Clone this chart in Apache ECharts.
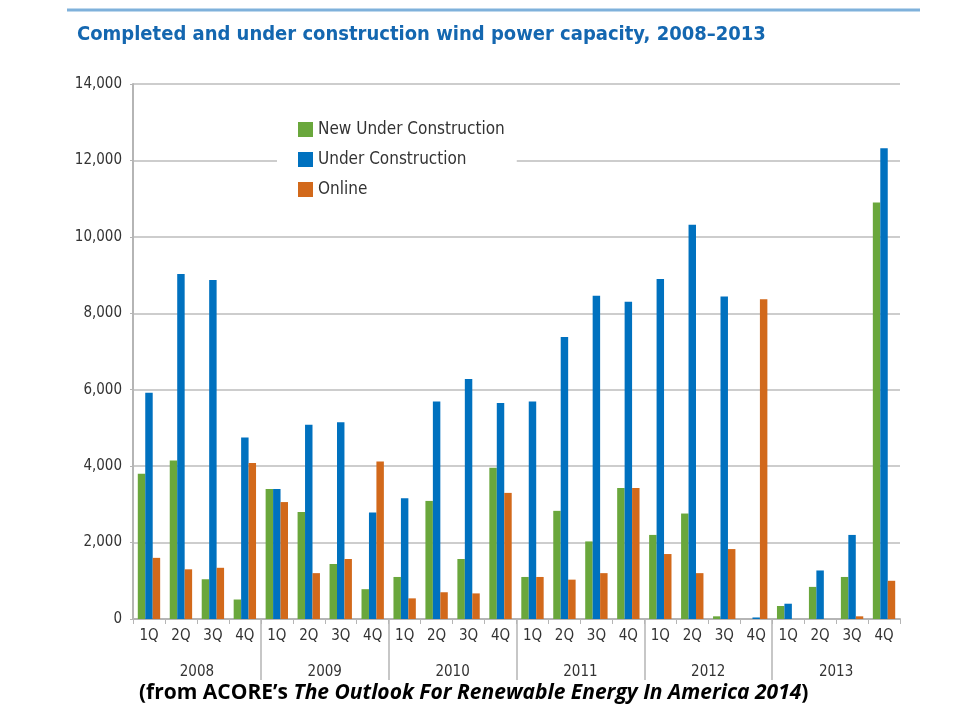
<!DOCTYPE html>
<html>
<head>
<meta charset="utf-8">
<script src="https://cdn.jsdelivr.net/npm/echarts@6/dist/echarts.min.js"></script>
<style>html,body{margin:0;padding:0;background:#fff}#c{width:960px;height:720px}</style>
</head>
<body>
<div id="c"></div>
<script>
const quarters = ['1Q','2Q','3Q','4Q','1Q','2Q','3Q','4Q','1Q','2Q','3Q','4Q','1Q','2Q','3Q','4Q','1Q','2Q','3Q','4Q','1Q','2Q','3Q','4Q'];
const years = ['2008','2009','2010','2011','2012','2013'];
const newUnderConstruction = [3800,4150,1040,510, 3400,2800,1440,780, 1100,3090,1570,3960, 1100,2830,2030,3430, 2200,2760,70,0, 340,840,1100,10900];
const underConstruction = [5920,9030,8870,4750, 3400,5080,5150,2790, 3160,5690,6280,5650, 5690,7380,8460,8300, 8900,10320,8440,40, 400,1270,2200,12320];
const online = [1600,1300,1340,4080, 3060,1200,1570,4120, 540,700,670,3300, 1100,1030,1200,3430, 1700,1200,1830,8370, 0,0,70,1000];
const yTicks = {min:0, max:14000, interval:2000};

const condensed = "'Liberation Sans Narrow','DejaVu Sans Condensed','Liberation Sans',sans-serif";
const chart = echarts.init(document.getElementById('c'), null, {renderer:'canvas'});
chart.setOption({
  backgroundColor:'#fff',
  animation:false,
  title:[{
    text:'Completed and under construction wind power capacity, 2008–2013',
    left:72, top:20,
    textStyle:{color:'#1467b0', fontSize:20, fontWeight:'bold', fontFamily:condensed}
  },{
    text:"{n|(from ACORE’s }{i|The Outlook For Renewable Energy In America 2014}{n|)}",
    left:134, top:678,
    textStyle:{rich:{
      n:{fontFamily:"'Open Sans',Lato,sans-serif", fontWeight:'bold', fontSize:21, color:'#000'},
      i:{fontFamily:"'Open Sans',Lato,sans-serif", fontWeight:'bold', fontStyle:'italic', fontSize:21, color:'#000'}
    }}
  }],
  graphic:[{type:'line', shape:{x1:67,y1:10,x2:920,y2:10}, style:{stroke:'#7fb1db', lineWidth:3}}],
  legend:{
    orient:'vertical', left:277, top:111,
    padding:[10,12,10,21],
    backgroundColor:'#fff',
    itemWidth:15, itemHeight:15, itemGap:13,
    icon:'rect',
    textStyle:{fontSize:17, color:'#333', fontFamily:condensed},
    data:['New Under Construction','Under Construction','Online']
  },
  grid:[
    {left:133, right:60, top:84, bottom:101, containLabel:false},
    {left:133, right:60, top:619, bottom:40, containLabel:false}
  ],
  xAxis:[{
    type:'category', gridIndex:0, data:quarters,
    axisLine:{lineStyle:{color:'#b5b5b5', width:2}},
    axisTick:{show:true, length:5, lineStyle:{color:'#b5b5b5'}},
    axisLabel:{color:'#333', fontSize:15, fontFamily:condensed, margin:10, interval:0}
  },{
    type:'category', gridIndex:1, data:years, position:'bottom',
    axisLine:{show:false}, axisTick:{show:false},
    splitLine:{show:true, showMinLine:false, showMaxLine:false, lineStyle:{color:'#b5b5b5', width:1.5}},
    axisLabel:{inside:true, margin:0, color:'#333', fontSize:15, fontFamily:condensed}
  }],
  yAxis:[{
    type:'value', gridIndex:0, min:yTicks.min, max:yTicks.max, interval:yTicks.interval,
    axisLine:{show:true, lineStyle:{color:'#b5b5b5', width:2}},
    axisTick:{show:true, length:3, lineStyle:{color:'#b5b5b5'}},
    splitLine:{lineStyle:{color:'#bdbdbd', width:1.5}},
    axisLabel:{color:'#333', fontSize:15, fontFamily:condensed, margin:11,
      formatter:v=>v.toLocaleString('en-US')}
  },{
    type:'value', gridIndex:1, show:false
  }],
  series:[
    {name:'New Under Construction', type:'bar', data:newUnderConstruction, itemStyle:{color:'#6aa73c'}, barGap:'0%', barCategoryGap:'30%'},
    {name:'Under Construction', type:'bar', data:underConstruction, itemStyle:{color:'#0071bf'}, barGap:'0%', barCategoryGap:'30%'},
    {name:'Online', type:'bar', data:online, itemStyle:{color:'#d2691b'}, barGap:'0%', barCategoryGap:'30%'}
  ]
});
</script>
</body>
</html>
